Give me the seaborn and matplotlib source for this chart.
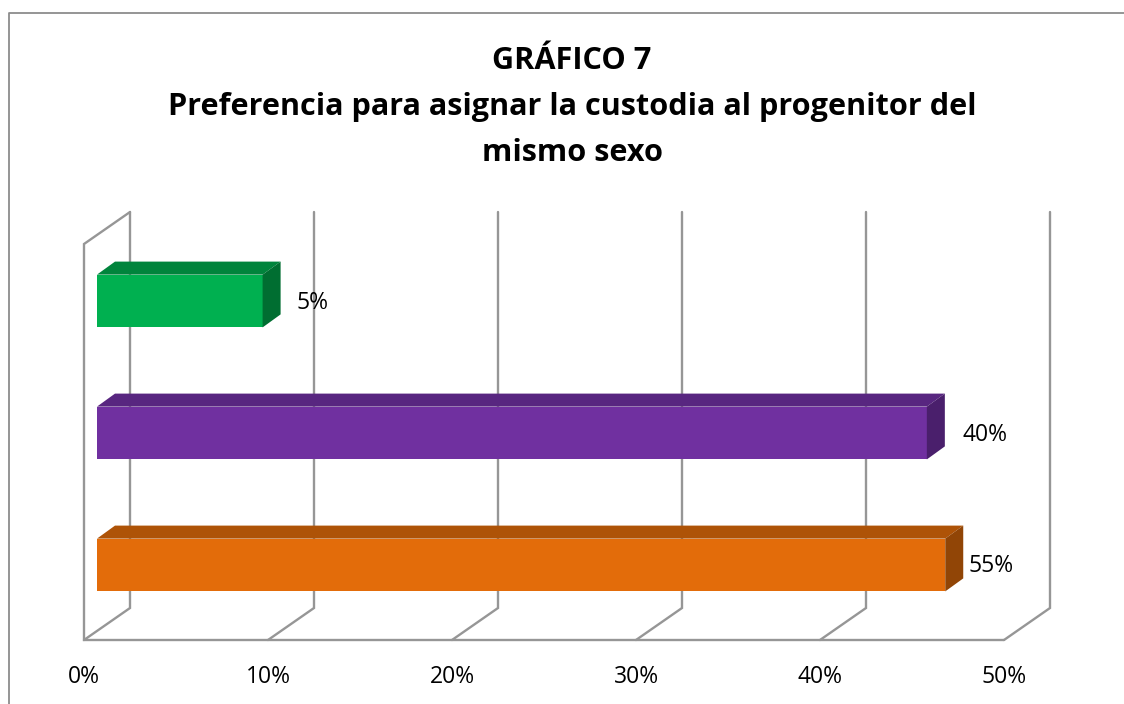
import matplotlib
matplotlib.use('Agg')
import matplotlib.pyplot as plt
import pandas as pd
import seaborn as sns
from matplotlib.lines import Line2D
from matplotlib.patches import Polygon

# categories have no visible names in the chart, top to bottom
categories = ['A', 'B', 'C']
bar_lengths = [9.0, 45.1, 46.1]
bar_labels = ['5%', '40%', '55%']
tick_values = [0, 10, 20, 30, 40, 50]
tick_labels = ['0%', '10%', '20%', '30%', '40%', '50%']
title_lines = ['GRÁFICO 7', 'Preferencia para asignar la custodia al progenitor del', 'mismo sexo']

front_colors = ['#00B050', '#7030A0', '#E36C0A']
top_colors = ['#00843C', '#582680', '#AE5307']
side_colors = ['#006E31', '#4A1F6C', '#914506']
line_color = '#969696'

W, H = 1124, 704
sns.set_theme(style='white')
plt.rcParams['font.family'] = ['Open Sans', 'DejaVu Sans']

fig = plt.figure(figsize=(W / 100, H / 100), dpi=100)
ax = fig.add_axes([84 / W, (H - 640) / H, 920 / W, 396 / H])

df = pd.DataFrame({'cat': categories, 'val': bar_lengths})
sns.barplot(data=df, x='val', y='cat', hue='cat', palette=front_colors, orient='h',
            width=0.4, legend=False, saturation=1, ax=ax, zorder=3)
ax.set_xlim(0, 50)
ax.set_ylim(2.5, -0.5)

# one px in data units
px_x = 50 / 920
px_y = 3 / 396

# walls and floor of the fake 3d box
wall_x, wall_y = 46 * px_x, 32 * px_y
lw = 1.7
for t in tick_values:
    ax.plot([t, t + wall_x, t + wall_x], [2.5, 2.5 - wall_y, -0.5 - wall_y],
            color=line_color, lw=lw, clip_on=False, zorder=1, solid_joinstyle='miter')
ax.plot([50, 0, 0, wall_x], [2.5, 2.5, -0.5, -0.5 - wall_y],
        color=line_color, lw=lw, clip_on=False, zorder=1, solid_joinstyle='miter')

# move bars into the middle of the depth and add top and side faces
shift_x, shift_y = 13 * px_x, 9 * px_y
deep_x, deep_y = 18 * px_x, 13 * px_y
label_gap = [50, 58, 46]
for i, bar in enumerate(ax.patches[:3]):
    bar.set_x(bar.get_x() + shift_x)
    bar.set_y(bar.get_y() - shift_y)
    bar.set_edgecolor('none')
    x0, x1 = bar.get_x(), bar.get_x() + bar.get_width()
    y0, y1 = bar.get_y(), bar.get_y() + bar.get_height()
    ax.add_patch(Polygon([(x0, y0), (x0 + deep_x, y0 - deep_y), (x1 + deep_x, y0 - deep_y), (x1, y0)],
                         fc=top_colors[i], ec='none', zorder=3, clip_on=False))
    ax.add_patch(Polygon([(x1, y0), (x1 + deep_x, y0 - deep_y), (x1 + deep_x, y1 - deep_y), (x1, y1)],
                         fc=side_colors[i], ec='none', zorder=3, clip_on=False))
    ax.text(x1 + label_gap[i] * px_x, (y0 + y1) / 2 + 1.5 * px_y, bar_labels[i], ha='center', va='center',
            fontsize=16.5, color='black', zorder=4, clip_on=False)

sns.despine(ax=ax, left=True, bottom=True)
ax.set_xticks(tick_values)
ax.set_xticklabels(tick_labels, fontsize=16.5, color='black')
ax.set_yticks([])
ax.set_xlabel('')
ax.set_ylabel('')
ax.tick_params(axis='x', length=0, pad=18)

for line, y in zip(title_lines, [61, 107, 153]):
    fig.text(572 / W, 1 - y / H, line, ha='center', va='center', fontsize=22.1, fontweight='bold',
             color='black')

# chart frame, only top and left fall inside the crop
fig.add_artist(Line2D([9 / W, 9 / W, 1], [0, 1 - 13 / H, 1 - 13 / H], color='#8C8C8C', lw=1.3))

fig.savefig('out.png', dpi=100, facecolor='white')
